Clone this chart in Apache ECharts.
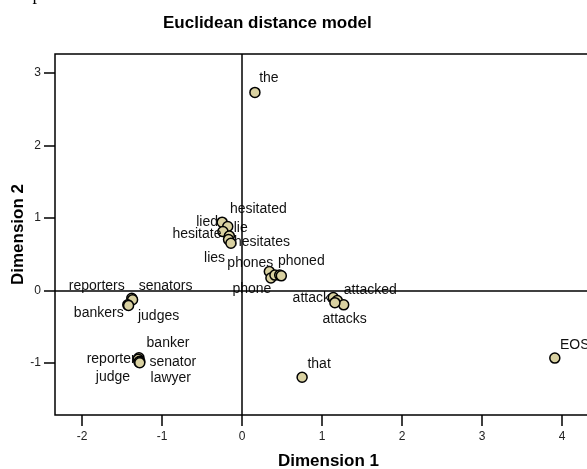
<!DOCTYPE html>
<html>
<head>
<meta charset="utf-8">
<script src="https://cdn.jsdelivr.net/npm/echarts@6/dist/echarts.min.js"></script>
<style>
html,body{margin:0;padding:0;background:#fff;}
#chart{width:587px;height:469px;}
</style>
</head>
<body>
<div id="chart"></div>
<script>
// ---- data ----
const words = ['the','lied','lie','hesitate','hesitated','lies','hesitates',
  'phones','phone','','','phoned',
  'attack','attacked','attacks','',
  'reporters','senators','bankers','judges',
  'banker','reporter','senator','judge','lawyer',
  'that','EOS'];
const dim1 = [0.16,-0.25,-0.18,-0.24,-0.16,-0.17,-0.14,
  0.34,0.36,0.41,0.47,0.49,
  1.14,1.19,1.27,1.16,
  -1.38,-1.37,-1.43,-1.42,
  -1.29,-1.30,-1.28,-1.29,-1.28,
  0.75,3.91];
const dim2 = [2.73,0.94,0.88,0.81,0.75,0.70,0.65,
  0.26,0.17,0.21,0.21,0.20,
  -0.10,-0.14,-0.20,-0.17,
  -0.11,-0.13,-0.20,-0.21,
  -0.93,-0.95,-0.98,-0.99,-1.00,
  -1.20,-0.935];
const xTicks = [-2,-1,0,1,2,3,4];
const yTicks = [-1,0,1,2,3];

// ---- label layout (pixel offsets of label centre from marker) ----
const labelOffsets = [[14,-14],[-15,0],[13,2],[-26,3],[29,-27],[-14,19],[31,-1],
  [-19,-8],[-19,11],[0,0],[0,0],[20,-15],
  [-22,1],[33,-10],[1,14],[0,0],
  [-35,-12],[33,-14],[-29,8],[30,11],
  [29,-15],[-27,0],[33,1],[-26,15],[31,15],
  [17,-13],[20,-13]];

const points = words.map((w,i)=>({
  name: w,
  value: [dim1[i], dim2[i]]
}));

const chart = echarts.init(document.getElementById('chart'), null, {renderer:'canvas'});
const font = 'Liberation Sans, Arial, sans-serif';
chart.setOption({
  animation: false,
  backgroundColor: '#fff',
  title: {
    text: 'Euclidean distance model',
    left: 158, top: 10,
    textStyle: {fontFamily: font, fontSize: 17, fontWeight: 'bold', color: '#000'}
  },
  graphic: [{
    type: 'text', left: -6, top: -14,
    style: {text: 'and epoch.', fontFamily: 'Liberation Serif, serif', fontSize: 18, fill: '#000'}
  }],
  grid: {left: 55, top: 54, bottom: 54, right: -15, show: true, borderColor: '#000', borderWidth: 1.5,
    backgroundColor: 'transparent', containLabel: false, outerBoundsMode: 'none'},
  xAxis: {
    type: 'value', min: -2.34, max: 4.5, minInterval: 1, maxInterval: 1,
    name: 'Dimension 1', nameLocation: 'middle', nameGap: 38, nameMoveOverlap: false,
    nameTextStyle: {fontFamily: font, fontSize: 17, fontWeight: 'bold', color: '#000'},
    axisLine: {show: false, onZero: false},
    axisTick: {show: true, inside: false, length: 11, customValues: xTicks, lineStyle: {color: '#000', width: 1.5}},
    axisLabel: {margin: 16, fontFamily: font, fontSize: 12, color: '#222', customValues: xTicks,
      formatter: v => xTicks.includes(v) ? String(v) : ''},
    splitLine: {show: false}
  },
  yAxis: {
    type: 'value', min: -1.72, max: 3.26, minInterval: 1, maxInterval: 1,
    name: 'Dimension 2', nameLocation: 'middle', nameGap: 28, nameMoveOverlap: false,
    nameTextStyle: {fontFamily: font, fontSize: 17, fontWeight: 'bold', color: '#000'},
    axisLine: {show: false, onZero: false},
    axisTick: {show: true, inside: false, length: 11, customValues: yTicks, lineStyle: {color: '#000', width: 1.5}},
    axisLabel: {margin: 14, fontFamily: font, fontSize: 12, color: '#222', customValues: yTicks,
      formatter: v => yTicks.includes(v) ? String(v) : ''},
    splitLine: {show: false}
  },
  series: [{
    type: 'scatter',
    data: points,
    symbol: 'circle',
    symbolSize: 10,
    itemStyle: {color: '#d9d1a1', borderColor: '#000', borderWidth: 1.5, opacity: 1},
    label: {
      show: true, position: 'inside', formatter: '{b}',
      fontFamily: font, fontSize: 14, color: '#111'
    },
    labelLayout: function (params) {
      const o = labelOffsets[params.dataIndex] || [0, 0];
      return {dx: o[0], dy: o[1], hideOverlap: false};
    },
    markLine: {
      silent: true, symbol: 'none', animation: false,
      label: {show: false},
      lineStyle: {color: '#000', width: 1.5, type: 'solid'},
      data: [{xAxis: 0}, {yAxis: 0}]
    },
    z: 3
  }]
});
</script>
</body>
</html>
